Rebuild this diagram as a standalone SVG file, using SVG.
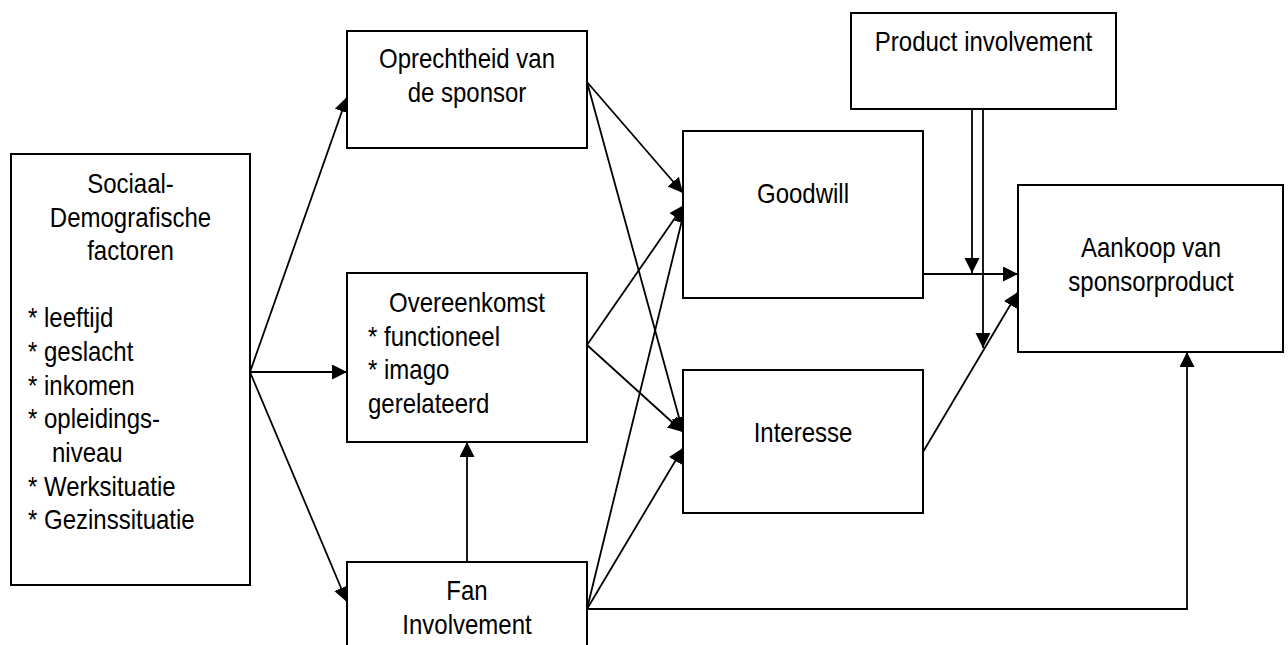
<svg xmlns="http://www.w3.org/2000/svg" width="1288" height="645" viewBox="0 0 1288 645">
<style>
.box{fill:#fff;stroke:#000;stroke-width:2}
.lbl{font-family:"Liberation Sans",Arial,sans-serif;font-size:24px;fill:#000}
.mid{text-anchor:middle}
.con{fill:none;stroke:#000;stroke-width:1.8}
</style>
<defs>
<marker id="ah" markerUnits="userSpaceOnUse" markerWidth="16" markerHeight="16" refX="15" refY="7.5" orient="auto">
<path d="M0,0 L15,7.5 L0,15 z" fill="#000"/>
</marker>
</defs>
<rect width="1288" height="645" fill="#fff"/>
<g id="connectors">
<path class="con" d="M250,372 L347,97" marker-end="url(#ah)"/>
<path class="con" d="M250,372 L347,372" marker-end="url(#ah)"/>
<path class="con" d="M250,372 L347,602" marker-end="url(#ah)"/>
<path class="con" d="M467,562 L467,442" marker-end="url(#ah)"/>
<path class="con" d="M587,82 L683,193" marker-end="url(#ah)"/>
<path class="con" d="M587,82 L683,432" marker-end="url(#ah)"/>
<path class="con" d="M587,345 L684,205" marker-end="url(#ah)"/>
<path class="con" d="M587,345 L683,432" marker-end="url(#ah)"/>
<path class="con" d="M587,609 L685,208" marker-end="url(#ah)"/>
<path class="con" d="M587,609 L683,448" marker-end="url(#ah)"/>
<path class="con" d="M587,609 L1187,609 L1187,352" marker-end="url(#ah)"/>
<path class="con" d="M923,274 L1018,274" marker-end="url(#ah)"/>
<path class="con" d="M923,452 L1018,292" marker-end="url(#ah)"/>
<path class="con" d="M972,109 L972,273" marker-end="url(#ah)"/>
<path class="con" d="M983,106 L983,348" marker-end="url(#ah)"/>
</g>
<g id="sociaal">
<rect class="box" x="11" y="154" width="239" height="431"/>
<text class="lbl mid" transform="matrix(1 0 0 1.16 130.5 193)"><tspan x="0" y="0">Sociaal-</tspan><tspan x="0" dy="29">Demografische</tspan><tspan x="0" dy="29">factoren</tspan></text>
<text class="lbl" transform="matrix(1 0 0 1.16 28 327.4)"><tspan x="0" y="0">* leeftijd</tspan><tspan x="0" dy="29">* geslacht</tspan><tspan x="0" dy="29">* inkomen</tspan><tspan x="0" dy="29">* opleidings-</tspan><tspan x="24" dy="29">niveau</tspan><tspan x="0" dy="29">* Werksituatie</tspan><tspan x="0" dy="29">* Gezinssituatie</tspan></text>
</g>
<g id="oprechtheid">
<rect class="box" x="347" y="31" width="240" height="117"/>
<text class="lbl mid" transform="matrix(1 0 0 1.16 467 68)"><tspan x="0" y="0">Oprechtheid van</tspan><tspan x="0" dy="29">de sponsor</tspan></text>
</g>
<g id="overeenkomst">
<rect class="box" x="347" y="273" width="240" height="169"/>
<text class="lbl" transform="matrix(1 0 0 1.16 0 312)"><tspan x="467" y="0" text-anchor="middle">Overeenkomst</tspan><tspan x="368" dy="29">* functioneel</tspan><tspan x="368" dy="29">* imago</tspan><tspan x="368" dy="29">gerelateerd</tspan></text>
</g>
<g id="fan">
<rect class="box" x="347" y="562" width="240" height="100"/>
<text class="lbl mid" transform="matrix(1 0 0 1.16 467 600)"><tspan x="0" y="0">Fan</tspan><tspan x="0" dy="29">Involvement</tspan></text>
</g>
<g id="goodwill">
<rect class="box" x="683" y="131" width="240" height="167"/>
<text class="lbl mid" transform="matrix(1 0 0 1.16 803 203)">Goodwill</text>
</g>
<g id="interesse">
<rect class="box" x="683" y="370" width="240" height="143"/>
<text class="lbl mid" transform="matrix(1 0 0 1.16 803 442)">Interesse</text>
</g>
<g id="product">
<rect class="box" x="851" y="13" width="265" height="96"/>
<text class="lbl mid" transform="matrix(1 0 0 1.16 983.5 51)">Product involvement</text>
</g>
<g id="aankoop">
<rect class="box" x="1018" y="185" width="265" height="167"/>
<text class="lbl mid" transform="matrix(1 0 0 1.16 1151 257)"><tspan x="0" y="0">Aankoop van</tspan><tspan x="0" dy="29">sponsorproduct</tspan></text>
</g>
</svg>
